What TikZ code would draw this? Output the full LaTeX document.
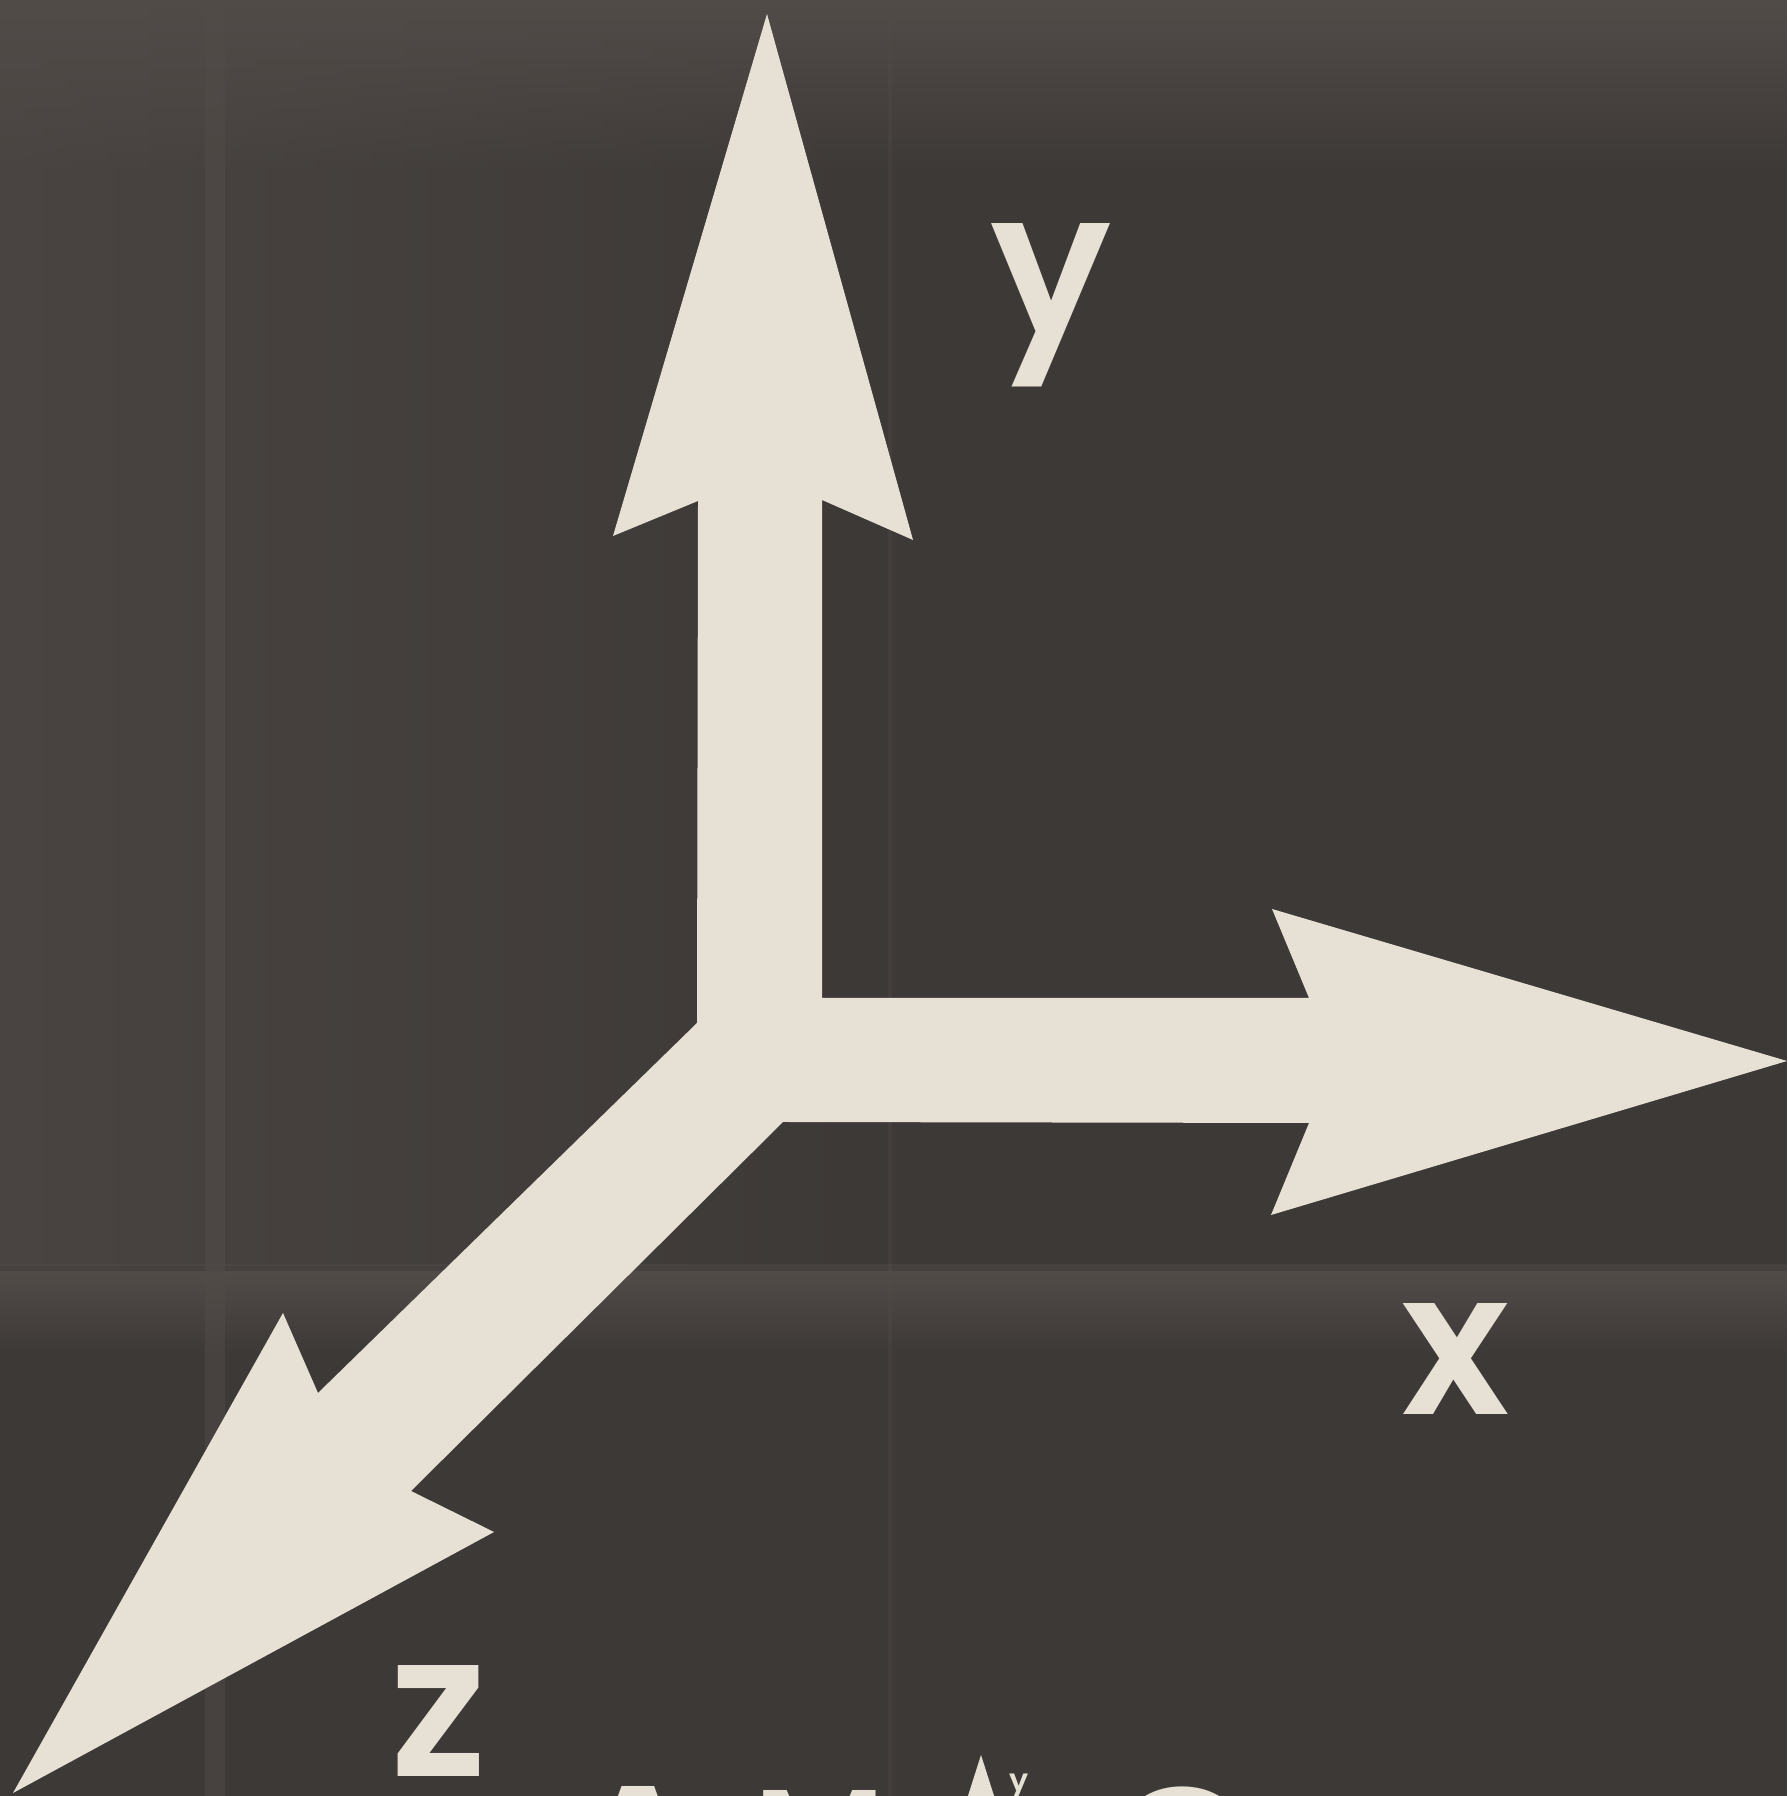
\documentclass[tikz,border=0pt]{standalone}
\usepackage{fontspec}
\newfontfamily\axisfont{Poppins SemiBold}
\usetikzlibrary{calc,fadings}
\definecolor{Board}{HTML}{3D3937}
\definecolor{BoardLight}{HTML}{524C49}
\definecolor{Chalk}{HTML}{E7E1D5}
\tikzfading[name=fade right, left color=transparent!0, right color=transparent!100]
\tikzfading[name=fade down, top color=transparent!0, bottom color=transparent!100]
\tikzset{
	axislabel/.style={text=Chalk, inner sep=0pt,
		font=\axisfont\fontsize{57}{57}\selectfont},
	smalllabel/.style={text=Chalk, inner sep=0pt,
		font=\axisfont\fontsize{9}{9}\selectfont}
}

\begin{document}
\begin{tikzpicture}[line join=miter]
		
		\useasboundingbox (0,0) rectangle (17.87,17.96);
		\clip (0,0) rectangle (17.87,17.96);
		
		% -- Background (dark board, lighter top and fold band) -----
		\fill[Board] (0,0) rectangle (17.87,17.96);
		\fill[BoardLight, path fading=fade down] (0,16.2) rectangle (17.87,17.96);
		\fill[BoardLight, path fading=fade right, fill opacity=0.6]
		(0,5.3) rectangle (9,17.96);
		\fill[BoardLight, path fading=fade down] (0,4.4) rectangle (17.87,5.25);
		\fill[BoardLight, opacity=0.45] (0,5.25) rectangle (17.87,5.32);
		\fill[BoardLight, opacity=0.5] (2.05,0) rectangle (2.25,17.96);
		\fill[BoardLight, opacity=0.35] (8.88,0) rectangle (8.92,17.96);
		
		% -- Axis cross: y up, x right, z down-left -----------------
		\fill[Chalk]
		(7.67,17.82) -- (9.13,12.56) -- (8.22,12.96) -- (8.22,7.98)
		-- (13.09,7.98) -- (12.72,8.87) -- (17.87,7.35) -- (12.71,5.81)
		-- (13.09,6.73) -- (7.83,6.74)
		-- (4.11,3.05) -- (4.94,2.64) -- (0.13,0.03) -- (2.83,4.83)
		-- (3.18,4.03) -- (6.97,7.73)
		-- (6.98,12.95) -- (6.13,12.60) -- cycle;
		
		% -- Axis labels ---------------------------------------------
		\node[axislabel, anchor=base] (ylab) at (10.51,14.61) {y};
		\node[axislabel, anchor=base] (xlab) at (14.56,3.81) {x};
		\node[axislabel, anchor=base] (zlab) at (4.39,0.20) {z};
		
		% -- Title line, cut off by the lower edge -------------------
		\node[axislabel, anchor=north] (titA) at (6.38,0.10) {A};
		\node[axislabel, font=\axisfont\fontsize{42}{42}\selectfont,
		anchor=north] (titM) at (8.20,0.06) {M};
		\fill[Chalk] (9.81,0.41) -- (10.10,-0.50) -- (9.52,-0.50) -- cycle;
		\node[smalllabel, anchor=north west] (tity) at (10.09,0.23) {y};
		\node[axislabel, anchor=north] (titC) at (11.81,0.10) {C};
		
	\end{tikzpicture}
\end{document}
